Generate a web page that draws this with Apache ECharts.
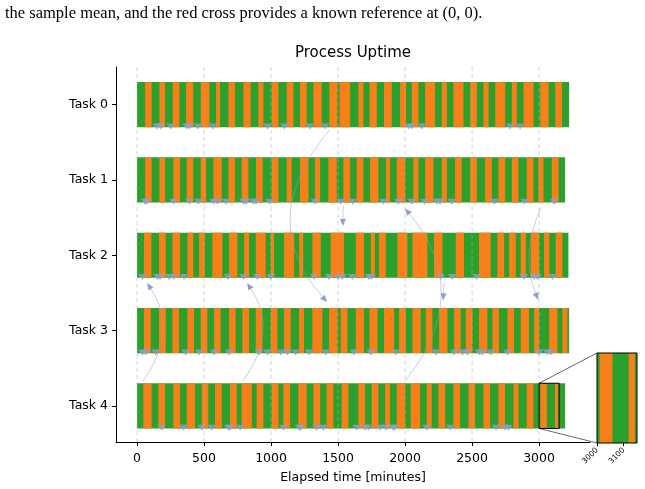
<!DOCTYPE html>
<html>
<head>
<meta charset="utf-8">
<script src="https://cdn.jsdelivr.net/npm/echarts@6/dist/echarts.min.js"></script>
<style>
html, body { margin: 0; padding: 0; background: #fff; }
#main { width: 645px; height: 489px; }
</style>
</head>
<body>
<div id="main"></div>
<script>
// tasks and their total run length (minutes)
const tasks = ['Task 0', 'Task 1', 'Task 2', 'Task 3', 'Task 4'];
const taskEnd = [3224, 3194, 3219, 3224, 3194];
const xTicks = [0, 500, 1000, 1500, 2000, 2500, 3000];
const insetTicks = [3000, 3100];
const zoomRange = [3000, 3150];

// orange (down) intervals per task, green elsewhere
const down0 = [[60,109],[167,209],[266,316],[366,420],[475,540],[590,619],[682,731],[794,848],[905,943],[1005,1055],[1117,1167],[1216,1266],[1316,1378],[1435,1495],[1512,1590],[1652,1689],[1735,1789],[1843,1901],[1963,2008],[2050,2100],[2150,2224],[2274,2312],[2361,2436],[2486,2536],[2585,2623],[2673,2747],[2797,2834],[2884,2959],[3009,3071],[3121,3171]];
const down1 = [[60,109],[167,209],[271,321],[371,420],[475,515],[570,632],[682,731],[781,831],[888,938],[1005,1055],[1117,1154],[1216,1279],[1328,1366],[1428,1490],[1540,1590],[1639,1689],[1739,1801],[1858,1888],[1938,2000],[2062,2100],[2150,2212],[2274,2312],[2373,2423],[2486,2536],[2597,2647],[2697,2747],[2797,2846],[2908,2958],[2995,3033],[3095,3145]];
const down2 = [[52,107],[164,214],[264,321],[376,420],[463,505],[562,637],[687,749],[799,836],[886,960],[998,1022],[1097,1172],[1210,1240],[1309,1371],[1445,1545],[1632,1694],[1745,1775],[1806,1856],[1943,2017],[2055,2167],[2216,2279],[2378,2440],[2552,2639],[2689,2739],[2776,2826],[2863,2901],[2938,3000],[3037,3077],[3124,3174]];
const down3 = [[52,102],[164,214],[264,313],[376,425],[475,525],[575,624],[687,736],[786,836],[886,935],[998,1047],[1097,1147],[1209,1246],[1308,1383],[1433,1495],[1520,1570],[1632,1694],[1734,1794],[1843,1918],[1955,2005],[2055,2117],[2154,2204],[2254,2316],[2366,2415],[2453,2502],[2552,2614],[2652,2701],[2764,2813],[2863,2925],[2963,3000],[3075,3137],[3174,3211]];
const down4 = [[47,109],[159,209],[271,321],[371,433],[483,532],[582,632],[694,744],[781,856],[893,943],[1005,1055],[1092,1142],[1204,1266],[1316,1366],[1415,1465],[1527,1577],[1652,1701],[1751,1801],[1851,1888],[1938,2000],[2042,2112],[2162,2199],[2249,2299],[2361,2410],[2473,2522],[2585,2634],[2697,2746],[2809,2846],[2908,2958],[3010,3058],[3119,3142]];
const downs = [down0, down1, down2, down3, down4];

// event markers (minutes) per task
const marks0 = [147,177,251,371,391,453,565,973,1100,1291,1403,2025,2050,2125,2784,2859];
const marks1 = [60,72,271,390,458,570,600,664,794,813,868,888,988,1328,1520,1610,1839,1950,2050,2145,2237,2261,2349,2667,2891,3112];
const marks2 = [40,152,172,239,276,351,679,794,898,998,1321,1433,1500,1532,1607,1731,1749,2266,2353,2535,2888,2963,2988,3100];
const marks3 = [40,65,139,363,463,575,687,910,973,1072,1122,1184,1284,1408,1619,1744,1930,2229,2366,2428,2465,2552,2577,2639,2764,3000,3062,3087];
const marks4 = [184,346,483,557,682,694,769,1092,1211,1221,1341,1391,1639,1701,1726,1813,1858,1913,1918,2162,2336,2679,2746,2771];
const marks = [marks0, marks1, marks2, marks3, marks4];

// arrows: [x0, y0, ctrlX, ctrlY, x1, y1]
const arrows = [
  [1440, 0.33, 873, 1.52, 1418, 2.62],
  [1540, 1.34, 1535, 1.47, 1537, 1.61],
  [2000, 3.67, 2522, 2.5, 2000, 1.38],
  [2291, 2.36, 2288, 2.48, 2284, 2.6],
  [3015, 1.37, 2858, 1.98, 2993, 2.59],
  [45, 3.67, 313, 3.0, 75, 2.37],
  [791, 3.67, 1060, 3.0, 821, 2.37]
];

const GREEN = '#2ca02c', ORANGE = '#f8801a', MARK = '#8da0cb';
const HALF = 0.3;
const CAPTION = 'the sample mean, and the red cross provides a known reference at (0, 0).';

const segData = [];
tasks.forEach((t, i) => {
  segData.push([0, taskEnd[i], i, 0]);
  downs[i].forEach(d => segData.push([d[0], d[1], i, 1]));
});
const markData = [];
marks.forEach((m, i) => m.forEach(x => markData.push([x, i + 0.29])));
const insetData = segData.filter(d => d[2] === 4);

function renderSeg(params, api) {
  const p0 = api.coord([api.value(0), api.value(2) - HALF]);
  const p1 = api.coord([api.value(1), api.value(2) + HALF]);
  const cs = params.coordSys;
  const r = echarts.graphic.clipRectByRect(
    { x: p0[0], y: Math.min(p0[1], p1[1]), width: p1[0] - p0[0], height: Math.abs(p1[1] - p0[1]) },
    { x: cs.x, y: cs.y, width: cs.width, height: cs.height });
  if (!r) return;
  return { type: 'rect', shape: r, style: { fill: api.value(3) ? ORANGE : GREEN } };
}

const baseGraphic = [
  { type: 'text', x: 5, y: 14, style: { text: CAPTION, font: '16.5px "Liberation Serif"', fill: '#000', textVerticalAlign: 'middle' } },
  { type: 'text', x: 353, y: 53, style: { text: 'Process Uptime', font: '15px "DejaVu Sans"', fill: '#000', textAlign: 'center', textVerticalAlign: 'middle' } }
];

const chart = echarts.init(document.getElementById('main'));
chart.setOption({
  animation: false,
  textStyle: { fontFamily: 'DejaVu Sans' },
  grid: [
    { left: 116, top: 67, right: 55, bottom: 47 },
    { left: 597, top: 353, width: 40, height: 90 }
  ],
  xAxis: [{
    type: 'value', gridIndex: 0, min: -157, max: 3380,
    axisLine: { onZero: false, lineStyle: { color: '#000', width: 1 } },
    axisTick: { customValues: xTicks, length: 4, lineStyle: { color: '#000' } },
    axisLabel: { customValues: xTicks, formatter: v => String(v), color: '#000', fontSize: 12.5, margin: 10 },
    splitLine: { show: false },
    name: 'Elapsed time [minutes]', nameLocation: 'middle', nameGap: 29,
    nameTextStyle: { color: '#000', fontSize: 12.5 }
  }, {
    type: 'value', gridIndex: 1, min: zoomRange[0], max: zoomRange[1],
    axisLine: { show: false, onZero: false },
    axisTick: { customValues: insetTicks, length: 3, lineStyle: { color: '#000' } },
    axisLabel: { customValues: insetTicks, formatter: v => String(v), color: '#000', fontSize: 7.5, rotate: 45, margin: 6 },
    splitLine: { show: false }
  }],
  yAxis: [{
    type: 'value', gridIndex: 0, inverse: true, min: -0.5, max: 4.48,
    axisLine: { show: true, onZero: false, lineStyle: { color: '#000', width: 1 } },
    axisTick: { show: true, customValues: [0, 1, 2, 3, 4], length: 4, lineStyle: { color: '#000' } },
    axisLabel: { customValues: [0, 1, 2, 3, 4], formatter: v => tasks[v], color: '#000', fontSize: 12.5, margin: 8 },
    splitLine: { show: false }
  }, {
    type: 'value', gridIndex: 1, inverse: true, min: 4 - HALF, max: 4 + HALF, show: false
  }],
  graphic: baseGraphic,
  series: [
    {
      type: 'custom', xAxisIndex: 0, yAxisIndex: 0, z: 2,
      renderItem: renderSeg, encode: { x: [0, 1], y: 2 }, data: segData
    },
    {
      type: 'custom', xAxisIndex: 0, yAxisIndex: 0, z: 3, silent: true,
      renderItem: (params, api) => {
        const p = api.coord([api.value(0), 0]);
        const cs = params.coordSys;
        return { type: 'line', shape: { x1: p[0], y1: cs.y, x2: p[0], y2: cs.y + cs.height },
          style: { stroke: 'rgba(176,176,176,0.55)', lineWidth: 1, lineDash: [4, 3] } };
      },
      encode: { x: 0 }, data: xTicks.map(v => [v])
    },
    {
      type: 'scatter', xAxisIndex: 0, yAxisIndex: 0, z: 4,
      symbol: 'triangle', symbolRotate: 180, symbolSize: [9, 6],
      itemStyle: { color: MARK }, data: markData
    },
    {
      type: 'custom', xAxisIndex: 0, yAxisIndex: 0, z: 5, silent: true,
      renderItem: (params, api) => {
        const a = api.coord([api.value(0), api.value(1)]);
        const c = api.coord([api.value(2), api.value(3)]);
        const b = api.coord([api.value(4), api.value(5)]);
        let dx = b[0] - c[0], dy = b[1] - c[1];
        const len = Math.hypot(dx, dy) || 1;
        dx /= len; dy /= len;
        const hl = 7, hw = 3;
        const bx = b[0] - dx * hl, by = b[1] - dy * hl;
        return { type: 'group', children: [
          { type: 'bezierCurve', shape: { x1: a[0], y1: a[1], x2: bx, y2: by, cpx1: c[0], cpy1: c[1] },
            style: { stroke: 'rgba(141,160,203,0.5)', lineWidth: 1, fill: null } },
          { type: 'polygon', shape: { points: [[b[0], b[1]], [bx - dy * hw, by + dx * hw], [bx + dy * hw, by - dx * hw]] },
            style: { fill: MARK } }
        ] };
      },
      encode: { x: [0, 2, 4], y: [1, 3, 5] }, data: arrows
    },
    {
      type: 'custom', xAxisIndex: 0, yAxisIndex: 0, z: 6, silent: true,
      renderItem: (params, api) => {
        const p0 = api.coord([api.value(0), api.value(2) - HALF]);
        const p1 = api.coord([api.value(1), api.value(2) + HALF]);
        return { type: 'rect', shape: { x: p0[0], y: p0[1], width: p1[0] - p0[0], height: p1[1] - p0[1] },
          style: { fill: null, stroke: '#000', lineWidth: 1 } };
      },
      encode: { x: [0, 1], y: 2 }, data: [[zoomRange[0], zoomRange[1], 4]]
    },
    {
      type: 'custom', xAxisIndex: 1, yAxisIndex: 1, z: 2,
      renderItem: renderSeg, encode: { x: [0, 1], y: 2 }, data: insetData
    },
    {
      type: 'custom', xAxisIndex: 1, yAxisIndex: 1, z: 6, silent: true,
      renderItem: (params) => {
        const cs = params.coordSys;
        return { type: 'rect', shape: { x: cs.x, y: cs.y, width: cs.width, height: cs.height },
          style: { fill: null, stroke: '#000', lineWidth: 1 } };
      },
      data: [[zoomRange[0], 4]]
    }
  ]
});

// connector lines from zoom box to inset
const tl = chart.convertToPixel({ gridIndex: 0 }, [zoomRange[0], 4 - HALF]);
const bl = chart.convertToPixel({ gridIndex: 0 }, [zoomRange[0], 4 + HALF]);
const itl = chart.convertToPixel({ gridIndex: 1 }, [zoomRange[0], 4 - HALF]);
const ibl = chart.convertToPixel({ gridIndex: 1 }, [zoomRange[0], 4 + HALF]);
chart.setOption({
  graphic: baseGraphic.concat([
    { type: 'line', z: 10, shape: { x1: tl[0], y1: tl[1], x2: itl[0], y2: itl[1] }, style: { stroke: 'rgba(0,0,0,0.6)', lineWidth: 1 } },
    { type: 'line', z: 10, shape: { x1: bl[0], y1: bl[1], x2: ibl[0], y2: ibl[1] }, style: { stroke: 'rgba(0,0,0,0.6)', lineWidth: 1 } }
  ])
});
</script>
</body>
</html>
